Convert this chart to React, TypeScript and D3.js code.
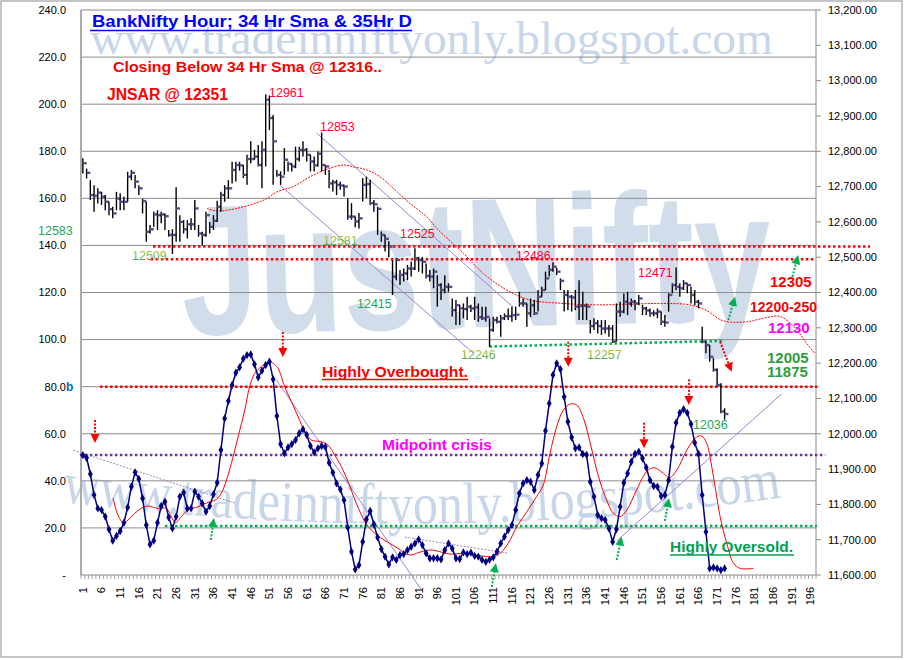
import React from 'react';
import * as d3 from 'd3';

// ---------- DATA ----------
const highP = [12780,12751,12718,12704,12695,12685,12676,12657,12643,12685,12681,12671,12742,12747,12733,12704,12666,12657,12591,12629,12633,12629,12624,12577,12579,12698,12619,12605,12605,12610,12662,12591,12572,12629,12600,12619,12660,12685,12704,12718,12770,12770,12770,12761,12790,12828,12804,12818,12828,12961,12958,12903,12747,12743,12809,12771,12766,12813,12813,12828,12809,12790,12785,12799,12853,12761,12747,12719,12719,12714,12705,12667,12653,12615,12625,12724,12728,12719,12662,12643,12573,12563,12545,12492,12497,12464,12468,12478,12487,12525,12501,12501,12482,12464,12468,12449,12426,12449,12426,12383,12379,12365,12369,12388,12365,12388,12369,12360,12360,12327,12331,12331,12336,12341,12355,12360,12360,12402,12383,12369,12383,12379,12407,12416,12459,12478,12486,12470,12440,12407,12407,12393,12407,12435,12402,12369,12322,12327,12322,12322,12322,12308,12308,12369,12374,12397,12402,12383,12379,12393,12365,12360,12355,12350,12355,12346,12336,12398,12426,12471,12426,12435,12426,12416,12407,12379,12303,12261,12251,12214,12185,12143,12072];
const lowP = [12737,12723,12662,12629,12652,12648,12633,12619,12610,12633,12633,12633,12657,12718,12695,12676,12624,12544,12567,12586,12577,12596,12577,12558,12509,12544,12544,12567,12553,12577,12577,12558,12534,12558,12567,12577,12600,12629,12657,12666,12709,12714,12745,12724,12705,12766,12776,12757,12695,12757,12860,12705,12728,12705,12733,12743,12743,12752,12771,12785,12771,12743,12743,12757,12743,12733,12695,12686,12676,12691,12672,12606,12606,12585,12581,12658,12667,12648,12629,12563,12544,12516,12500,12393,12435,12421,12431,12435,12445,12464,12459,12454,12440,12431,12412,12360,12379,12398,12402,12332,12308,12308,12327,12322,12345,12322,12317,12322,12317,12246,12289,12312,12275,12322,12322,12317,12322,12360,12360,12303,12331,12336,12346,12388,12407,12445,12459,12449,12407,12346,12350,12346,12350,12322,12322,12322,12284,12294,12284,12280,12284,12275,12257,12261,12331,12341,12336,12360,12350,12364,12336,12336,12331,12333,12327,12308,12303,12346,12398,12407,12388,12407,12398,12369,12364,12355,12256,12228,12204,12176,12133,12058,12040];
const closeP = [12766,12739,12676,12674,12683,12671,12657,12636,12624,12666,12657,12657,12728,12739,12714,12695,12659,12572,12579,12621,12619,12621,12616,12563,12563,12638,12600,12579,12593,12593,12638,12567,12563,12619,12586,12603,12643,12676,12695,12695,12747,12761,12760,12733,12778,12778,12785,12761,12804,12946,12894,12828,12733,12728,12776,12764,12757,12778,12804,12804,12790,12771,12760,12793,12761,12757,12709,12712,12705,12703,12700,12615,12615,12601,12610,12705,12707,12653,12650,12637,12563,12552,12530,12445,12492,12450,12454,12468,12468,12497,12492,12487,12447,12445,12459,12421,12407,12416,12416,12350,12364,12355,12353,12360,12355,12358,12330,12327,12331,12294,12322,12317,12327,12333,12333,12336,12337,12369,12369,12341,12364,12341,12388,12407,12440,12464,12473,12459,12433,12393,12388,12386,12360,12362,12362,12360,12305,12313,12305,12298,12298,12298,12261,12346,12346,12374,12369,12374,12369,12383,12355,12349,12341,12341,12346,12317,12315,12393,12421,12416,12412,12426,12421,12393,12374,12369,12261,12251,12218,12181,12138,12063,12056];
const osc = [50.9,49.8,42.9,34,28.3,27.6,24.8,19.4,14.6,16.6,18.7,22.2,28.7,37.5,43.6,40.8,32.6,21.2,13,14.6,22.2,29.3,31.1,24.5,19.8,24.8,33.3,35,28.3,28.3,35.4,33.3,30.4,26.9,29.3,34.3,39.2,53.1,66.5,73.9,80.7,85.9,88.2,91.9,93.4,93.7,89.5,84,86.8,89.2,90.6,83.2,67.5,55.6,51.7,54.2,55.6,57.3,60.2,61.9,59.5,54.8,52.1,53.8,54.8,54.5,47.7,43.5,38.9,36.4,31.8,20.2,9.9,2.4,4.2,14.1,23.6,27.2,21.5,16,11,7.8,4.5,7.5,6.4,8.5,8.9,10.6,12,13.4,15.1,12.7,9.2,7.1,7.1,7.1,6.6,10.6,13.4,11.3,7.1,6.8,9.6,8.9,9.5,8.1,7.8,6.4,5.6,6.5,7.5,9.9,13.4,16.3,19.1,21.2,27.6,34.7,38.9,40.3,39.6,36.1,42.5,47.4,61.3,72.9,85,89.9,87.4,75.7,65.1,58.5,53.8,54.2,51.4,51,39.6,33.3,25.5,24.1,23.4,19.8,14.1,19.4,29,39.2,43.2,48.1,51.4,52.4,49.6,45.7,40.3,37.8,37.5,33.5,34,40.3,54.5,64.7,68.9,70.4,68.9,64.1,56.2,51.4,34,18.4,2.8,3.2,2.8,2.1,2.8];
// smoothed oscillator [category, value]
const oscAvg: [number, number][] = [[9.1,32.6],[10.4,25.5],[11.8,22.2],[13.1,23.3],[14.9,26.2],[17.1,28.7],[18.5,29.3],[21.1,28.3],[23.4,28.3],[24.7,24.8],[25.8,22.2],[27.4,24.8],[29.2,27.6],[31.9,29],[35,31.1],[36.8,32.1],[38.1,34.7],[39.5,40.3],[40.8,47.4],[42.6,58.7],[44.4,70.1],[45.7,80],[47.1,85.7],[48.9,88.5],[51.1,90.6],[52,89.9],[53.3,87.8],[55.1,80],[56.9,73.6],[58.7,67.2],[60.5,60.9],[62.3,57.3],[65,56.6],[66.7,55.2],[68.5,51],[70.3,46],[72.1,39.6],[74.3,30.4],[76.6,22.6],[78.3,19.1],[80.6,16],[83.3,13.4],[85.5,11.3],[87.7,8.9],[89.1,8.5],[90.9,9.5],[94,10.6],[96.7,9.9],[99.4,8.9],[103,9.2],[106.5,8.5],[109.2,7.8],[111,7.8],[112.8,9.2],[115,13.4],[117.3,20.5],[120,26.9],[122.6,33.3],[124.4,38.2],[126.2,51.7],[128,63],[129.8,70.1],[131.6,72.6],[133.4,72.2],[135.2,66.5],[137,55.9],[139.2,41.8],[141.4,31.8],[143.2,26.2],[145,24.8],[146.8,27.6],[149.4,36.1],[152.1,43.9],[154.1,45.6],[156.6,43.2],[158.2,41.3],[160.2,44.6],[162.9,53.1],[165.5,58.7],[166.9,59],[168.2,55.9],[170,41.8],[171.8,24.8],[173.6,13.4],[175.4,5],[177.2,2.8],[180.7,2.8]];
// 34 hr SMA (displaced) [category, price]
const sma: [number, number][] = [[34.2,12638],[36.9,12631],[41.3,12636],[47.6,12654],[50.3,12666],[53,12685],[57.4,12700],[61.9,12728],[66.4,12749],[70.8,12761],[73.5,12756],[77.1,12747],[80.6,12728],[84.2,12695],[88.7,12652],[93.1,12615],[96,12580],[103,12511],[108.3,12454],[114.6,12407],[120.8,12379],[129.8,12369],[138.7,12365],[147.6,12367],[156.6,12369],[163.7,12365],[168,12350],[172.6,12320],[178.9,12317],[183.4,12327],[187.9,12332],[192.3,12294],[195,12256],[197.2,12228]];

const xTickLabels = [1,6,11,16,21,26,31,36,41,46,51,56,61,66,71,76,81,86,91,96,101,106,111,116,121,126,131,136,141,146,151,156,161,166,171,176,181,186,191,196];
const leftTicks = [0,20,40,60,80,100,120,140,160,180,200,220,240];
const rightTicks = [11600,11700,11800,11900,12000,12100,12200,12300,12400,12500,12600,12700,12800,12900,13000,13100,13200];

// horizontal reference levels: [fromCat, toCat, value]
const priceLevels: [number, number, number][] = [[19.8, 212, 12530], [19.2, 197.2, 12494]];
const oscLevels = [
  { from: 5.6, to: 198, v: 80, color: '#FF0000' },
  { from: 0.2, to: 200, v: 51, color: '#7030A0' },
  { from: 23, to: 197.8, v: 20.8, color: '#00B050' },
];
const priceTrend: [number, number, number, number][] = [[63.7, 12851, 116.3, 12359], [53.8, 12704, 105.6, 12229]];
const oscTrend: [number, number, number, number, boolean][] = [[-1.6, 53, 41.8, 30.5, true], [52.9, 82.8, 91.8, -6.4, false], [87.3, 16.1, 114.9, 9.3, true], [144.1, 14.5, 188.3, 76.9, false]];
const supportLine: [number, number, number, number] = [110, 12247, 173, 12263];
// arrows on left scale [c1, v1, c2, v2, color]
const arrows: [number, number, number, number, string][] = [
  [4.25, 65.8, 4.25, 56.1, '#FF0000'],
  [54.6, 103.2, 54.6, 92.6, '#FF0000'],
  [35.3, 14.9, 36.1, 24.2, '#00B050'],
  [131.1, 99.1, 131.1, 88.5, '#FF0000'],
  [110.6, -5, 111.7, 5, '#00B050'],
  [151.4, 64.7, 151.4, 53.8, '#FF0000'],
  [144.1, 6.4, 145.4, 16.3, '#00B050'],
  [157, 23, 158.1, 32.6, '#00B050'],
  [163.5, 83.1, 163.4, 72.2, '#FF0000'],
  [171.8, 99.1, 174.9, 86.3, '#FF0000'],
  [174, 108.3, 175.8, 118.2, '#00B050'],
  [191.2, 126.7, 192.7, 135.9, '#00B050'],
];

// ---------- SCALES ----------
const PL = 81, PR = 816, PT = 10, PB = 575;
const xl = d3.scaleLinear().domain([0.5, 197.5]).range([PL, PR]);
const yL = d3.scaleLinear().domain([0, 240]).range([PB, PT]);
const yR = d3.scaleLinear().domain([11600, 13200]).range([PB, PT]);

const FONT = 'Liberation Sans, Arial, sans-serif';

function Arrow({ x1, y1, x2, y2, color }: any) {
  const dx = x2 - x1, dy = y2 - y1, len = Math.hypot(dx, dy);
  const ux = dx / len, uy = dy / len;
  const hl = 9, hw = 4.5;
  const bx = x2 - ux * hl, by = y2 - uy * hl;
  const px = -uy, py = ux;
  return (
    <g>
      <line x1={x1} y1={y1} x2={bx} y2={by} stroke={color} strokeWidth={2} strokeDasharray="2,1.5" />
      <polygon points={`${x2},${y2} ${bx + px * hw},${by + py * hw} ${bx - px * hw},${by - py * hw}`} fill={color} />
    </g>
  );
}

export default function App() {
  const oscLine = d3.line<number>().x((_, i) => xl(i + 1)).y((d) => yL(d))(osc) || '';
  const avgLine = d3.line<[number, number]>().x((d) => xl(d[0])).y((d) => yL(d[1])).curve(d3.curveCatmullRom.alpha(0.5))(oscAvg) || '';
  const smaLine = d3.line<[number, number]>().x((d) => xl(d[0])).y((d) => yR(d[1])).curve(d3.curveCatmullRom.alpha(0.5))(sma) || '';
  const diamond = d3.symbol().type(d3.symbolDiamond).size(20)() || '';
  const cats = d3.range(0, 198);

  const num = (x: number, y: number, t: string, color: string) => (
    <text x={x} y={y} fontFamily={FONT} fontSize={12.5} fill={color}>{t}</text>
  );

  return (
    <div style={{ position: 'absolute', left: 0, top: 0 }}>
      <svg width={905} height={660} style={{ display: 'block', background: '#fff' }}>
        <defs>
          <path id="wmPath" d="M 62,502 Q 430,548 792,496" fill="none" />
          <linearGradient id="gy" x1="0" y1="0" x2="0" y2="1">
            <stop offset="0" stopColor="#C9C832" />
            <stop offset="1" stopColor="#1FA75A" />
          </linearGradient>
        </defs>
        <rect x={1} y={1} width={901} height={656} fill="#fff" stroke="#8C8C8C" />

        {/* watermarks */}
        <text x={90} y={54} fontFamily="Liberation Serif, Times New Roman, serif" fontSize={46} fill="#C8D6E9" textLength={683} lengthAdjust="spacingAndGlyphs">www.tradeinniftyonly.blogspot.com</text>
        <text fontFamily="Liberation Serif, Times New Roman, serif" fontSize={58} fill="#C8D6E9">
          <textPath href="#wmPath" textLength={722} lengthAdjust="spacingAndGlyphs">www.tradeinniftyonly.blogspot.com</textPath>
        </text>
        <text x={183} y={335} fontFamily={FONT} fontWeight="bold" fontSize={185} fill="#D2DDEC" textLength={590} lengthAdjust="spacingAndGlyphs" transform="rotate(-1.5 183 335)">JustNifty</text>

        {/* gridlines */}
        {leftTicks.filter((t) => t > 0).map((t) => (
          <line key={'g' + t} x1={PL} x2={PR} y1={yL(t)} y2={yL(t)} stroke="#8C8C8C" strokeWidth={1} />
        ))}

        {/* axes */}
        <line x1={PL} x2={PL} y1={PT} y2={PB} stroke="#ABABAB" strokeWidth={2} />
        <line x1={PR} x2={PR} y1={PT} y2={PB} stroke="#8C8C8C" strokeWidth={1} />
        <line x1={PL} x2={PR} y1={PB} y2={PB} stroke="#8C8C8C" strokeWidth={1} />
        {cats.map((c) => (
          <line key={'mt' + c} x1={xl(c + 0.5)} x2={xl(c + 0.5)} y1={PB} y2={PB + 4} stroke="#8C8C8C" strokeWidth={0.8} />
        ))}
        {rightTicks.map((t) => (
          <g key={'r' + t}>
            <line x1={PR} x2={PR + 5} y1={yR(t)} y2={yR(t)} stroke="#8C8C8C" />
            <text x={828} y={yR(t)} dy="0.35em" fontFamily={FONT} fontSize={11} fill="#000">{d3.format(',.2f')(t)}</text>
          </g>
        ))}
        {leftTicks.map((t) => (
          <text key={'l' + t} x={66} y={yL(t)} dy="0.35em" textAnchor="end" fontFamily={FONT} fontSize={11} fill="#000">{t === 0 ? '-' : d3.format('.1f')(t)}</text>
        ))}
        {xTickLabels.map((c) => (
          <text key={'x' + c} transform={`translate(${xl(c)},587) rotate(-90)`} textAnchor="end" dy="0.35em" fontFamily={FONT} fontSize={11} fill="#000">{c}</text>
        ))}
        <text x={66} y={391} fontFamily={FONT} fontSize={12} fontWeight="bold" fill="#0070C0">b</text>

        {/* reference levels */}
        {priceLevels.map((p, i) => (
          <line key={'pl' + i} x1={xl(p[0])} x2={xl(p[1])} y1={yR(p[2])} y2={yR(p[2])} stroke="#FF0000" strokeWidth={2.5} strokeDasharray="2.5,2.5" />
        ))}
        {oscLevels.map((p, i) => (
          <line key={'ol' + i} x1={xl(p.from)} x2={xl(p.to)} y1={yL(p.v)} y2={yL(p.v)} stroke={p.color} strokeWidth={2.5} strokeDasharray="2.5,2.5" />
        ))}

        {/* trend lines */}
        {priceTrend.map((t, i) => (
          <line key={'pt' + i} x1={xl(t[0])} y1={yR(t[1])} x2={xl(t[2])} y2={yR(t[3])} stroke="#9C82D2" strokeWidth={1} />
        ))}
        {oscTrend.map((t, i) => (
          <line key={'ot' + i} x1={xl(t[0])} y1={yL(t[1])} x2={xl(t[2])} y2={yL(t[3])} stroke="#9C82D2" strokeWidth={1} strokeDasharray={t[4] ? '2,1.5' : undefined} />
        ))}
        <line x1={xl(supportLine[0])} y1={yR(supportLine[1])} x2={xl(supportLine[2])} y2={yR(supportLine[3])} stroke="#00B050" strokeWidth={2.5} strokeDasharray="2.5,2.5" />

        {/* SMA */}
        <path d={smaLine} fill="none" stroke="#FF0000" strokeWidth={1} strokeDasharray="2,1.2" />

        {/* price bars */}
        {closeP.map((c, i) => {
          const x = xl(i + 1);
          return (
            <g key={'b' + i}>
              <line x1={x} x2={x} y1={yR(highP[i])} y2={yR(lowP[i])} stroke="#000" strokeWidth={1.4} />
              <line x1={x} x2={x + 3.8} y1={yR(c)} y2={yR(c)} stroke="#5E4B8A" strokeWidth={2.4} />
            </g>
          );
        })}

        {/* oscillator */}
        <path d={avgLine} fill="none" stroke="#FF0000" strokeWidth={1} />
        <path d={oscLine} fill="none" stroke="#000080" strokeWidth={1.5} />
        {osc.map((v, i) => (
          <path key={'m' + i} d={diamond} transform={`translate(${xl(i + 1)},${yL(v)})`} fill="#000080" />
        ))}

        {/* arrows */}
        {arrows.map((a, i) => (
          <Arrow key={'a' + i} x1={xl(a[0])} y1={yL(a[1])} x2={xl(a[2])} y2={yL(a[3])} color={a[4]} />
        ))}

        {/* titles & annotations */}
        <text x={92} y={27} fontFamily={FONT} fontSize={17} fontWeight="bold" fill="#0000FF" textLength={320} lengthAdjust="spacingAndGlyphs">BankNifty Hour; 34 Hr Sma &amp; 35Hr D</text>
        <line x1={90} x2={412} y1={30.5} y2={30.5} stroke="#0000FF" strokeWidth={1.5} />
        <text x={113} y={72} fontFamily={FONT} fontSize={15.5} fontWeight="bold" fill="#FF0000" textLength={269} lengthAdjust="spacingAndGlyphs">Closing Below 34 Hr Sma @ 12316..</text>
        <text x={107} y={100} fontFamily={FONT} fontSize={16} fontWeight="bold" fill="#FF0000" textLength={121} lengthAdjust="spacingAndGlyphs">JNSAR @ 12351</text>

        {num(269, 97, '12961', '#FF0033')}
        {num(320, 131, '12853', '#FF0033')}
        {num(38, 235, '12583', '#1FA75A')}
        <text x={132} y={260} fontFamily={FONT} fontSize={12.5} fill="url(#gy)">12509</text>
        <text x={323} y={245} fontFamily={FONT} fontSize={12.5} fill="url(#gy)">12581</text>
        {num(400, 238, '12525', '#FF0033')}
        {num(357, 308, '12415', '#1FA75A')}
        {num(516, 260, '12486', '#FF0033')}
        <text x={461} y={359} fontFamily={FONT} fontSize={12.5} fill="url(#gy)">12246</text>
        <text x={587} y={359} fontFamily={FONT} fontSize={12.5} fill="url(#gy)">12257</text>
        {num(638, 277, '12471', '#FF0033')}
        {num(693, 429, '12036', '#1FA75A')}

        <text x={770} y={287} fontFamily={FONT} fontSize={15} fontWeight="bold" fill="#FF0000">12305</text>
        <text x={750} y={312} fontFamily={FONT} fontSize={15} fontWeight="bold" fill="#FF0000" textLength={67} lengthAdjust="spacingAndGlyphs">12200-250</text>
        <text x={768} y={333} fontFamily={FONT} fontSize={15} fontWeight="bold" fill="#FF00FF">12130</text>
        <text x={767} y={363} fontFamily={FONT} fontSize={15} fontWeight="bold" fill="#2E9E3A">12005</text>
        <text x={767} y={377} fontFamily={FONT} fontSize={15} fontWeight="bold" fill="#2E9E3A">11875</text>

        <text x={322} y={377} fontFamily={FONT} fontSize={15} fontWeight="bold" fill="#FF0000" textLength={146} lengthAdjust="spacingAndGlyphs">Highly Overbought.</text>
        <line x1={322} x2={468} y1={379.5} y2={379.5} stroke="#FF0000" strokeWidth={1.5} />
        <text x={382} y={450} fontFamily={FONT} fontSize={15} fontWeight="bold" fill="#FF00FF" textLength={110} lengthAdjust="spacingAndGlyphs">Midpoint crisis</text>
        <text x={670} y={552} fontFamily={FONT} fontSize={15} fontWeight="bold" fill="#00A050" textLength={123} lengthAdjust="spacingAndGlyphs">Highly Oversold.</text>
        <line x1={670} x2={794} y1={555} y2={555} stroke="#00A050" strokeWidth={1.5} />
      </svg>
    </div>
  );
}
